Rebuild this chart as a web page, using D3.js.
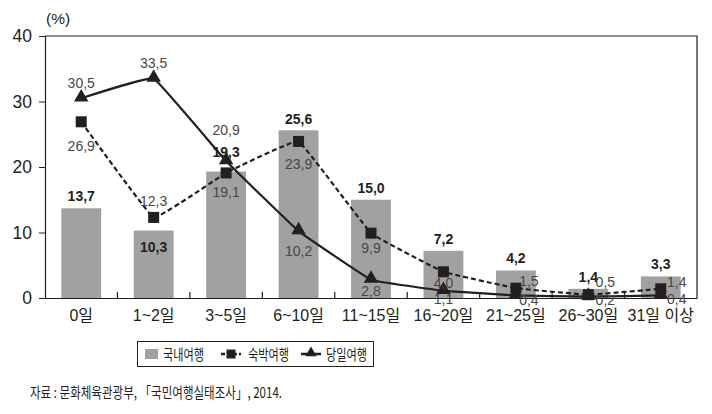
<!DOCTYPE html>
<html><head><meta charset="utf-8">
<script src="https://cdn.jsdelivr.net/npm/d3@7"></script>
<style>
body{margin:0;background:#fff;}
svg{display:block;}
</style></head>
<body>
<svg id="c" width="712" height="414"></svg>
<script>
const categories = ["0일","1~2일","3~5일","6~10일","11~15일","16~20일","21~25일","26~30일","31일 이상"];
const domestic = [13.7, 10.3, 19.3, 25.6, 15.0, 7.2, 4.2, 1.4, 3.3];
const overnight = [26.9, 12.3, 19.1, 23.9, 9.9, 4.0, 1.5, 0.5, 1.4];
const daytrip = [30.5, 33.5, 20.9, 10.2, 2.8, 1.1, 0.4, 0.2, 0.4];
const yTicks = [0, 10, 20, 30, 40];
const seriesNames = ["국내여행", "숙박여행", "당일여행"];
const sourceText = "자료 : 문화체육관광부, 「국민여행실태조사」, 2014.";

// label placements (dx, dy relative to point), purely presentational
const ovPos = [[0,29],[0,-11],[0,24],[0,28],[0,20],[0,16],[13,-2],[17,-8],[16,-2]];
const dayPos = [[0,-10],[0,-11],[0,-26],[0,25],[0,16],[0,13],[13,10],[17,8],[16,9]];
const barPos = [-7,21,-15,-6,-7,-7,-7,-7,-7];

const svg = d3.select("#c");
const L = 45, R = 697, T = 36, B = 298;
const x = d3.scaleBand().domain(categories).range([L, R]).paddingInner(0.45).paddingOuter(0.225);
const xc = d => x(d) + x.bandwidth()/2;
const y = d3.scaleLinear().domain([0, 40]).range([B, T]);
const ink = "#231f20";
const fnt = "'Liberation Sans', Arial, 'Noto Sans CJK KR', sans-serif";

// frame top/right
svg.append("path").attr("d", `M${L},${T}H${R}V${B}`).attr("fill","none").attr("stroke",ink).attr("stroke-width",1.2);

// bars
svg.append("g").selectAll("rect").data(domestic).join("rect")
  .attr("x",(d,i)=>x(categories[i])).attr("width",x.bandwidth())
  .attr("y",d=>y(d)).attr("height",d=>B-y(d)).attr("fill","#a1a1a1");

// y axis
const ya = svg.append("g").attr("transform",`translate(${L},0)`)
  .call(d3.axisLeft(y).tickValues(yTicks).tickSize(6).tickPadding(7));
ya.select(".domain").attr("stroke",ink).attr("stroke-width",1.2);
ya.selectAll("line").attr("stroke",ink);
ya.selectAll("text").attr("font-family",fnt).attr("font-size",17.5).attr("fill","#231f20");

// x axis
const xa = svg.append("g").attr("transform",`translate(0,${B})`)
  .call(d3.axisBottom(x).tickSize(0).tickPadding(12));
xa.select(".domain").attr("stroke",ink).attr("stroke-width",1.2);
xa.selectAll("text").attr("font-family","'Liberation Sans', 'Noto Sans CJK KR', sans-serif").attr("font-size",16).attr("fill","#231f20");
// inward separator ticks
const seps = categories.slice(1).map(c => x(c) - x.step()*x.paddingInner()/2);
svg.append("g").selectAll("line").data(seps).join("line")
  .attr("x1",d=>d).attr("x2",d=>d).attr("y1",B).attr("y2",B-6).attr("stroke",ink).attr("stroke-width",1.2);

svg.append("text").attr("x",L+1).attr("y",24).text("(%)").attr("font-family",fnt).attr("font-size",15.5).attr("fill","#231f20");

const line = d3.line().x((d,i)=>xc(categories[i])).y(d=>y(d)).curve(d3.curveCardinal.tension(0.8));

svg.append("path").datum(overnight).attr("d",line).attr("fill","none").attr("stroke",ink).attr("stroke-width",2.2).attr("stroke-dasharray","5,3");
svg.append("path").datum(daytrip).attr("d",line).attr("fill","none").attr("stroke",ink).attr("stroke-width",2.2);

const sq = 11;
svg.append("g").selectAll("rect").data(overnight).join("rect")
  .attr("x",(d,i)=>xc(categories[i])-sq/2).attr("y",d=>y(d)-sq/2).attr("width",sq).attr("height",sq).attr("fill",ink);
const tri = d3.symbol().type(d3.symbolTriangle).size(90);
svg.append("g").selectAll("path").data(daytrip).join("path")
  .attr("d",tri).attr("transform",(d,i)=>`translate(${xc(categories[i])},${y(d)-1})`).attr("fill",ink);

// labels
const fmt = v => v.toFixed(1).replace(".",",");
svg.append("g").selectAll("text").data(domestic).join("text")
  .attr("x",(d,i)=>xc(categories[i])).attr("y",(d,i)=>y(d)+barPos[i])
  .attr("text-anchor","middle").attr("font-family",fnt).attr("font-size",14).attr("font-weight","bold").attr("fill","#231f20")
  .text(fmt);
svg.append("g").selectAll("text").data(overnight).join("text")
  .attr("x",(d,i)=>xc(categories[i])+ovPos[i][0]).attr("y",(d,i)=>y(d)+ovPos[i][1])
  .attr("text-anchor","middle").attr("font-family",fnt).attr("font-size",14).attr("fill","#474747")
  .text(fmt);
svg.append("g").selectAll("text").data(daytrip).join("text")
  .attr("x",(d,i)=>xc(categories[i])+dayPos[i][0]).attr("y",(d,i)=>y(d)+dayPos[i][1])
  .attr("text-anchor","middle").attr("font-family",fnt).attr("font-size",14).attr("fill","#474747")
  .text(fmt);

// legend
const lg = svg.append("g");
lg.append("rect").attr("x",137.5).attr("y",341.5).attr("width",236).attr("height",25).attr("fill","#fff").attr("stroke",ink).attr("stroke-width",1);
const ly = 354;
const lf = "'Noto Sans CJK KR', sans-serif";
lg.append("rect").attr("x",145).attr("y",ly-5).attr("width",13).attr("height",10).attr("fill","#a1a1a1");
lg.append("text").attr("x",163).attr("y",ly+5.5).text(seriesNames[0]).attr("font-family",lf).attr("font-size",15).attr("fill","#231f20").attr("textLength",41).attr("lengthAdjust","spacingAndGlyphs");
lg.append("line").attr("x1",221).attr("x2",241).attr("y1",ly).attr("y2",ly).attr("stroke",ink).attr("stroke-width",2.5).attr("stroke-dasharray","4,2");
lg.append("rect").attr("x",226.5).attr("y",ly-4.5).attr("width",9).attr("height",9).attr("fill",ink);
lg.append("text").attr("x",248).attr("y",ly+5.5).text(seriesNames[1]).attr("font-family",lf).attr("font-size",15).attr("fill","#231f20").attr("textLength",41).attr("lengthAdjust","spacingAndGlyphs");
lg.append("line").attr("x1",301).attr("x2",321).attr("y1",ly).attr("y2",ly).attr("stroke",ink).attr("stroke-width",2.5);
lg.append("path").attr("d",d3.symbol().type(d3.symbolTriangle).size(55)).attr("transform",`translate(311,${ly-1})`).attr("fill",ink);
lg.append("text").attr("x",326).attr("y",ly+5.5).text(seriesNames[2]).attr("font-family",lf).attr("font-size",15).attr("fill","#231f20").attr("textLength",41).attr("lengthAdjust","spacingAndGlyphs");

svg.append("text").attr("x",30).attr("y",398).text(sourceText).attr("font-family",lf).attr("font-size",15).attr("fill","#231f20").attr("textLength",252).attr("lengthAdjust","spacingAndGlyphs");
</script>
</body></html>
